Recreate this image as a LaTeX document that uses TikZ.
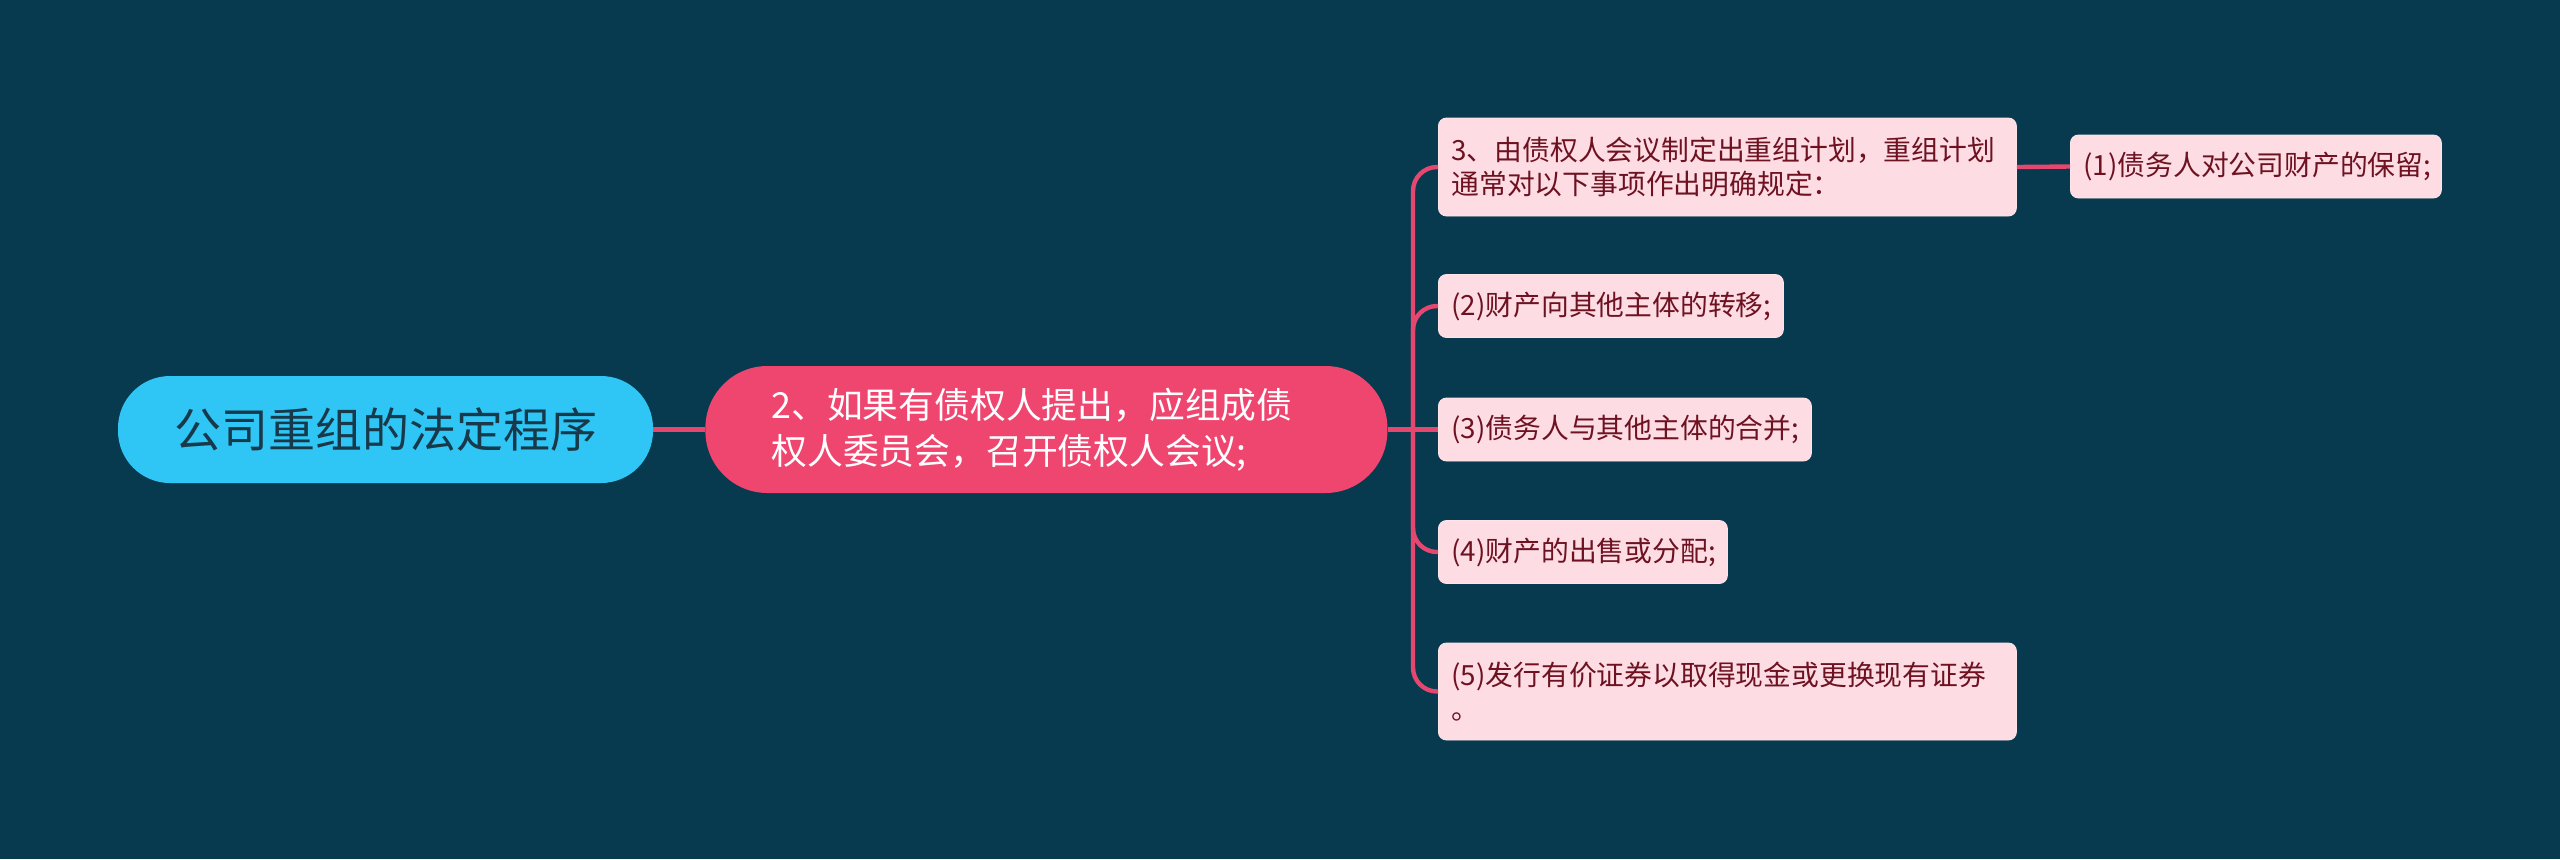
\documentclass[tikz,border=0pt]{standalone}
\usepackage{fontspec}
\setmainfont{Noto Sans CJK SC}
\usepackage{tikz}
\usetikzlibrary{positioning}

\definecolor{bgteal}{HTML}{073A4F}
\definecolor{rootblue}{HTML}{2FC5F5}
\definecolor{rootink}{HTML}{17394A}
\definecolor{mainred}{HTML}{EF4670}
\definecolor{leafpink}{HTML}{FDDDE3}
\definecolor{leafink}{HTML}{6E1222}
\definecolor{linkred}{HTML}{E5476F}

\begin{document}
\begin{tikzpicture}[x = 0.5pt, y = -0.5pt,
    rootbox/.style = {fill = rootblue, text = rootink, rounded corners = 26pt,
        minimum width = 267.5pt, minimum height = 53.5pt, inner sep = 0pt,
        font = \fontsize{23.5}{28}\selectfont},
    mainbox/.style = {fill = mainred, text = white, rounded corners = 31pt,
        minimum height = 63.5pt, inner xsep = 33pt, text width = 275pt,
        align = left, anchor = west, font = \fontsize{17.9}{23}\selectfont},
    leafbox/.style = {fill = leafpink, text = leafink, rounded corners = 4pt,
        draw = leafpink!80!white, line width = 0.4pt,
        minimum height = 31.5pt, inner xsep = 6.5pt, align = left,
        anchor = west, font = \fontsize{13.9}{17}\selectfont},
    link/.style = {draw = linkred, line width = 2.2pt},
    branchlink/.style = {link, rounded corners = 12pt}]
			\useasboundingbox (0,0) rectangle (2560,859);
			\fill[bgteal] (0,0) rectangle (2560,859);
			\node[rootbox] (root) at (385.5,429.5) {公司重组的法定程序};
			\node[mainbox] (main) at (705,429.5)
			{2、如果有债权人提出，应组成债\\权人委员会，召开债权人会议;};
			\node[leafbox, text width = 276pt, minimum height = 49pt] (plan) at (1438,167)
			{3、由债权人会议制定出重组计划，重组计划\\通常对以下事项作出明确规定：};
			\node[leafbox, text width = 172.5pt] (keep) at (2070,166.5)
			{(1)债务人对公司财产的保留;};
			\node[leafbox, text width = 159.5pt] (move) at (1438,306)
			{(2)财产向其他主体的转移;};
			\node[leafbox, text width = 173.5pt] (merge) at (1438,429.5)
			{(3)债务人与其他主体的合并;};
			\node[leafbox, text width = 131.5pt] (sell) at (1438,552)
			{(4)财产的出售或分配;};
			\node[leafbox, text width = 276pt, minimum height = 48.5pt] (issue) at (1438,691.5)
			{(5)发行有价证券以取得现金或更换现有证券\\。};
			\coordinate (hub) at (1413,429.5);
			\draw[link, line width = 2.6pt] (root.east) -- (main.west);
			\draw[link] (main.east) -- (hub);
			\draw[branchlink] (hub) |- (plan.west);
			\draw[branchlink] (hub) |- (move.west);
			\draw[link] (hub) -- (merge.west);
			\draw[branchlink] (hub) |- (sell.west);
			\draw[branchlink] (hub) |- (issue.west);
			\draw[link] (plan.east) -- (keep.west);
		\end{tikzpicture}
\end{document}
